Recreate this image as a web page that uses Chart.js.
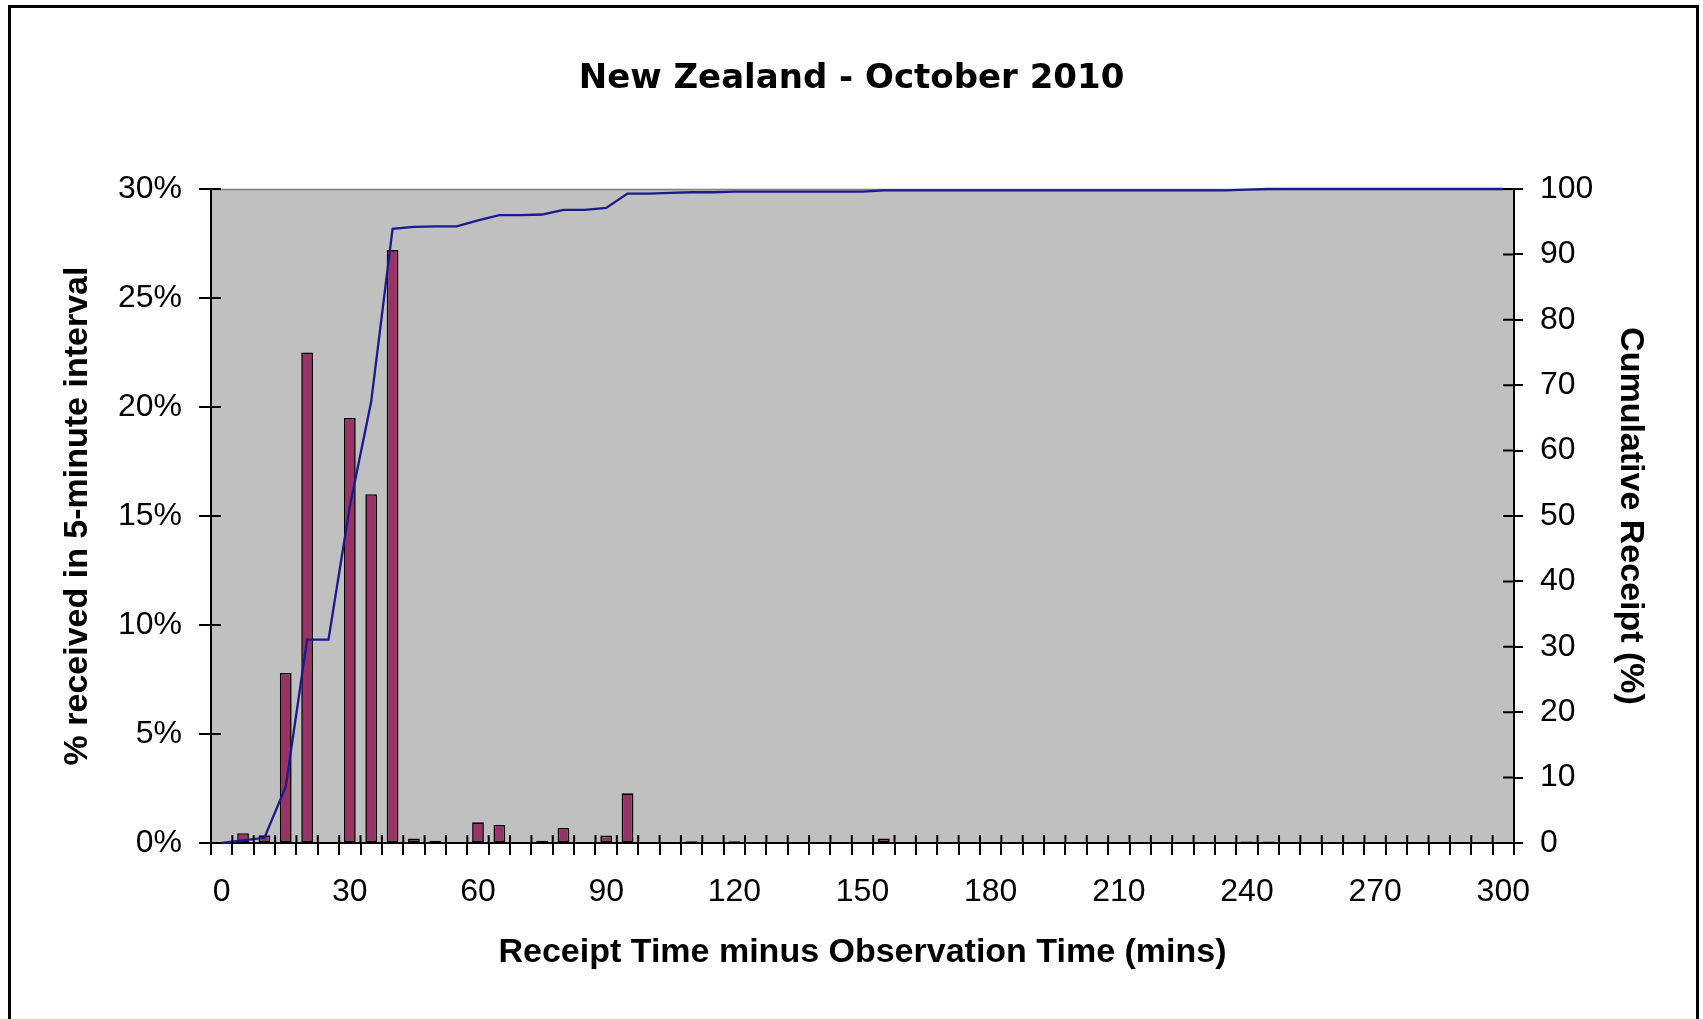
<!DOCTYPE html>
<html>
<head>
<meta charset="utf-8">
<script src="https://cdn.jsdelivr.net/npm/chart.js@4.4.1/dist/chart.umd.min.js"></script>
<style>
  html, body { margin: 0; padding: 0; background: #fff; overflow: hidden; }
  #wrap { position: relative; width: 1703px; height: 1019px; }
  canvas { position: absolute; left: 0; top: 0; }
  #frame { position: absolute; left: 8px; top: 5px; width: 1685px; height: 1100px;
           border: 3px solid #000; border-bottom: none; pointer-events: none; }
</style>
</head>
<body>
<div id="wrap">
  <canvas id="chart" width="1703" height="1019"></canvas>
  <div id="frame"></div>
</div>
<script>
// Receipt delay bins (minutes after observation), 5-minute intervals
const minutes = [0, 5, 10, 15, 20, 25, 30, 35, 40, 45, 50, 55, 60, 65, 70, 75, 80, 85, 90, 95,
  100, 105, 110, 115, 120, 125, 130, 135, 140, 145, 150, 155, 160, 165, 170, 175, 180, 185, 190, 195,
  200, 205, 210, 215, 220, 225, 230, 235, 240, 245, 250, 255, 260, 265, 270, 275, 280, 285, 290, 295, 300];

// % of reports received in each 5-minute interval
const pctInInterval = [0, 0.45, 0.35, 7.8, 22.5, 0, 19.5, 16.0, 27.2, 0.21,
  0.1, 0, 0.95, 0.83, 0, 0.1, 0.69, 0, 0.34, 2.28,
  0, 0, 0.08, 0, 0.08, 0, 0, 0, 0, 0,
  0, 0.21, 0, 0, 0, 0, 0, 0, 0, 0,
  0, 0, 0, 0, 0, 0, 0, 0, 0.07, 0.07,
  0, 0, 0, 0, 0, 0, 0, 0, 0, 0, 0];

// Cumulative receipt (%)
const cumulativeReceipt = [0, 0.4, 0.8, 8.6, 31.1, 31.1, 51.5, 67.5, 93.9, 94.2,
  94.3, 94.3, 95.2, 96.0, 96.0, 96.1, 96.8, 96.8, 97.1, 99.3,
  99.3, 99.4, 99.5, 99.5, 99.6, 99.6, 99.6, 99.6, 99.6, 99.6,
  99.6, 99.8, 99.8, 99.8, 99.8, 99.8, 99.8, 99.8, 99.8, 99.8,
  99.8, 99.8, 99.8, 99.8, 99.8, 99.8, 99.8, 99.8, 99.9, 100,
  100, 100, 100, 100, 100, 100, 100, 100, 100, 100, 100];

// Minutes that carry a label on the time axis
const labelledMinutes = [0, 30, 60, 90, 120, 150, 180, 210, 240, 270, 300];

const SANS = "'Liberation Sans', Arial, sans-serif";

// Grey plot area with a thin border along the top
const plotBackground = {
  id: 'plotBackground',
  beforeDraw(chart) {
    const { ctx, chartArea: a } = chart;
    ctx.save();
    ctx.fillStyle = '#c0c0c0';
    ctx.fillRect(a.left, a.top, a.right - a.left, a.bottom - a.top);
    ctx.strokeStyle = '#808080';
    ctx.lineWidth = 1.5;
    ctx.beginPath();
    ctx.moveTo(a.left, a.top + 0.5);
    ctx.lineTo(a.right, a.top + 0.5);
    ctx.stroke();
    ctx.restore();
  }
};

// Tick marks that also reach into the plot area (cross-style ticks)
const innerTicks = {
  id: 'innerTicks',
  afterDatasetsDraw(chart) {
    const { ctx, chartArea: a, scales } = chart;
    ctx.save();
    ctx.strokeStyle = '#000';
    ctx.lineWidth = 2;
    ctx.beginPath();
    const x = scales.x;
    const n = x.ticks.length;
    const step = x.getPixelForTick(1) - x.getPixelForTick(0);
    for (let i = 0; i <= n; i++) {
      const px = i < n ? x.getPixelForTick(i) - step / 2 : x.getPixelForTick(n - 1) + step / 2;
      ctx.moveTo(px, a.bottom);
      ctx.lineTo(px, a.bottom - 8);
    }
    scales.y.ticks.forEach((t, i) => {
      const py = scales.y.getPixelForTick(i);
      ctx.moveTo(a.left, py);
      ctx.lineTo(a.left + 10, py);
    });
    scales.y1.ticks.forEach((t, i) => {
      const py = scales.y1.getPixelForTick(i);
      ctx.moveTo(a.right, py);
      ctx.lineTo(a.right - 11, py);
    });
    ctx.stroke();
    ctx.restore();
  }
};

const tickFont = { family: SANS, size: 32 };
const axisTitleFont = { family: SANS, size: 34, weight: 'bold' };

new Chart(document.getElementById('chart'), {
  type: 'bar',
  data: {
    labels: minutes,
    datasets: [
      {
        type: 'line',
        label: 'Cumulative Receipt (%)',
        data: cumulativeReceipt,
        yAxisID: 'y1',
        borderColor: '#1a1a8c',
        borderWidth: 2.3,
        pointRadius: 0,
        tension: 0,
        fill: false,
        clip: false,
        order: 0
      },
      {
        type: 'bar',
        label: '% received in 5-minute interval',
        data: pctInInterval,
        yAxisID: 'y',
        backgroundColor: '#993366',
        borderColor: '#000',
        borderWidth: 1.6,
        borderSkipped: false,
        categoryPercentage: 1,
        barPercentage: 0.55,
        order: 1
      }
    ]
  },
  options: {
    responsive: false,
    animation: false,
    devicePixelRatio: 1,
    layout: { padding: 0 },
    plugins: {
      legend: { display: false },
      tooltip: { enabled: false },
      title: {
        display: true,
        text: 'New Zealand - October 2010',
        color: '#000',
        font: { family: "'DejaVu Sans', sans-serif", size: 34, weight: 'bold' },
        padding: { top: 58.6, bottom: 89.6 }
      }
    },
    scales: {
      x: {
        type: 'category',
        position: 'bottom',
        offset: true,
        afterFit(s) { s.height = 176; },
        grid: { offset: true, drawOnChartArea: false, color: '#000', lineWidth: 2, tickLength: 12 },
        border: { display: true, color: '#000', width: 2 },
        ticks: {
          autoSkip: false, maxRotation: 0, minRotation: 0, padding: 18,
          color: '#000', font: tickFont,
          callback(value) {
            const m = this.getLabelForValue(value);
            return labelledMinutes.includes(Number(m)) ? String(m) : '';
          }
        },
        title: {
          display: true,
          text: 'Receipt Time minus Observation Time (mins)',
          color: '#000',
          font: axisTitleFont,
          padding: { top: 0, bottom: 45.6 }
        }
      },
      y: {
        position: 'left',
        min: 0, max: 30,
        afterFit(s) { s.width = 211; },
        grid: { drawOnChartArea: false, color: '#000', lineWidth: 2, tickLength: 12 },
        border: { display: true, color: '#000', width: 2 },
        ticks: {
          stepSize: 5, padding: 17, color: '#000', font: tickFont,
          callback: v => v + '%'
        },
        title: {
          display: true,
          text: '% received in 5-minute interval',
          color: '#000',
          font: axisTitleFont,
          padding: { top: 57.6, bottom: 0 }
        }
      },
      y1: {
        position: 'right',
        min: 0, max: 100,
        afterFit(s) { s.width = 189; },
        grid: { drawOnChartArea: false, color: '#000', lineWidth: 2, tickLength: 9 },
        border: { display: true, color: '#000', width: 2 },
        ticks: { stepSize: 10, padding: 17, color: '#000', font: tickFont },
        title: {
          display: true,
          text: 'Cumulative Receipt (%)',
          color: '#000',
          font: axisTitleFont,
          padding: { top: 52.6, bottom: 0 }
        }
      }
    }
  },
  plugins: [plotBackground, innerTicks]
});
</script>
</body>
</html>
